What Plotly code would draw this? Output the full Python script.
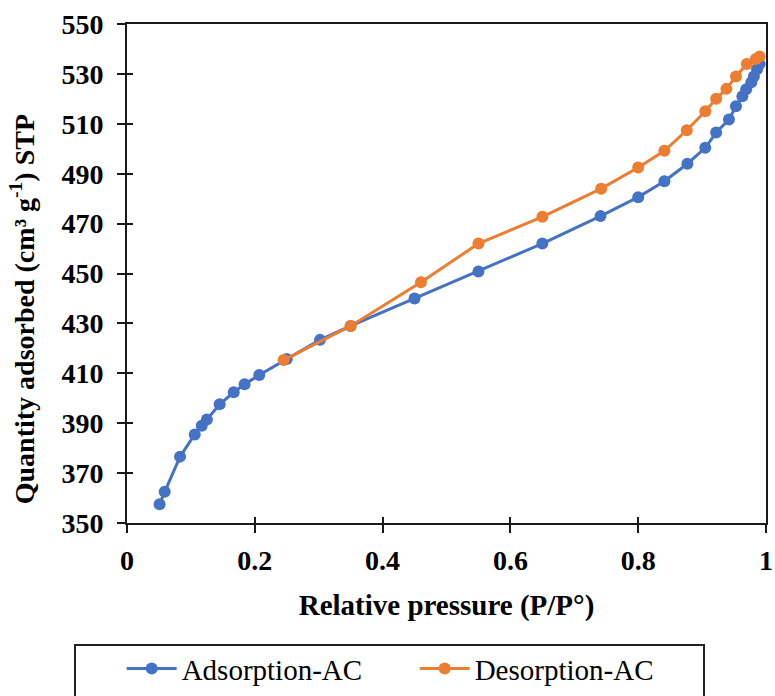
import plotly.graph_objects as go

ads_x = [0.051, 0.059, 0.083, 0.106, 0.117, 0.125, 0.145, 0.167, 0.184, 0.207, 0.25, 0.302,
         0.35, 0.45, 0.55, 0.65, 0.741, 0.80, 0.841, 0.877, 0.905, 0.922, 0.942, 0.953,
         0.963, 0.969, 0.977, 0.981, 0.986, 0.99]
ads_y = [357.5, 362.5, 376.6, 385.5, 389.0, 391.5, 397.6, 402.4, 405.6, 409.3, 415.7, 423.4,
         429.0, 440.0, 450.8, 462.0, 473.0, 480.6, 487.0, 494.0, 500.4, 506.5, 511.7, 517.0,
         521.0, 523.8, 526.6, 529.0, 531.9, 534.0]

des_x = [0.245, 0.35, 0.46, 0.55, 0.65, 0.742, 0.80, 0.841, 0.876, 0.905, 0.922, 0.938,
         0.953, 0.97, 0.984, 0.99]
des_y = [415.3, 429.0, 446.5, 462.0, 472.7, 484.0, 492.5, 499.2, 507.4, 515.0, 520.0, 524.0,
         529.0, 534.0, 536.0, 537.0]

x_ticks = [0, 0.2, 0.4, 0.6, 0.8, 1]
x_tick_labels = ["0", "0.2", "0.4", "0.6", "0.8", "1"]
y_ticks = [350, 370, 390, 410, 430, 450, 470, 490, 510, 530, 550]

x_title = "Relative pressure (P/P°)"
y_title = "Quantity adsorbed (cm³ g<sup>-1</sup>) STP"

BLUE = "#4472C4"
ORANGE = "#ED7D31"
FONT = "'Liberation Serif', 'Times New Roman', Times, serif"
AX = "#1a1a1a"

fig = go.Figure()
fig.add_trace(go.Scatter(x=ads_x, y=ads_y, mode="lines+markers", name="Adsorption-AC",
                         line=dict(color=BLUE, width=3), marker=dict(color=BLUE, size=12)))
fig.add_trace(go.Scatter(x=des_x, y=des_y, mode="lines+markers", name="Desorption-AC",
                         line=dict(color=ORANGE, width=3), marker=dict(color=ORANGE, size=12)))
# helper trace for the inner half of crossing ticks
fig.add_trace(go.Scatter(x=[None], y=[None], xaxis="x2", yaxis="y2", showlegend=False,
                         hoverinfo="skip"))

tickfont = dict(family=FONT, size=28, color="black", weight="bold")
titlefont = dict(family=FONT, size=29, color="black", weight="bold")

fig.update_layout(
    width=775, height=696,
    margin=dict(l=127, r=9, t=24, b=173, autoexpand=False),
    paper_bgcolor="white", plot_bgcolor="white",
    font=dict(family=FONT),
    xaxis=dict(range=[0, 1], tickvals=x_ticks, ticktext=x_tick_labels,
               ticks="outside", ticklen=8, tickwidth=2, tickcolor=AX,
               showline=True, linecolor=AX, linewidth=2, mirror=True,
               showgrid=False, zeroline=False, tickfont=tickfont, ticklabelstandoff=3,
               title=dict(text=x_title, font=titlefont, standoff=20)),
    yaxis=dict(range=[350, 550], tickvals=y_ticks,
               ticks="outside", ticklen=8, tickwidth=2, tickcolor=AX,
               showline=True, linecolor=AX, linewidth=2, mirror=True,
               showgrid=False, zeroline=False, tickfont=tickfont, ticklabelstandoff=8),
    xaxis2=dict(range=[0, 1], tickvals=x_ticks, overlaying="x", side="bottom",
                ticks="inside", ticklen=6, tickwidth=2, tickcolor=AX,
                showticklabels=False, showline=False, showgrid=False, zeroline=False),
    yaxis2=dict(range=[350, 550], tickvals=y_ticks, overlaying="y", side="left",
                ticks="inside", ticklen=6, tickwidth=2, tickcolor=AX,
                showticklabels=False, showline=False, showgrid=False, zeroline=False),
    legend=dict(orientation="h", xref="container", yref="container",
                x=0.157, xanchor="left", y=0.0761, yanchor="top",
                font=dict(family=FONT, size=29, color="black"),
                itemwidth=50, entrywidth=228, entrywidthmode="pixels",
                bgcolor="rgba(0,0,0,0)", borderwidth=0),
    annotations=[dict(text=y_title, xref="paper", yref="paper", x=-0.163, y=0.428,
                      textangle=-90, showarrow=False, xanchor="center", yanchor="middle",
                      font=dict(family=FONT, size=28, color="black", weight="bold"))],
    shapes=[dict(type="rect", xref="paper", yref="paper",
                 x0=-0.0814, x1=0.903, y0=-0.2445, y1=-0.36,
                 line=dict(color="#222", width=2), fillcolor="rgba(0,0,0,0)", layer="below")],
    showlegend=True,
)

fig.write_html("out.html")
